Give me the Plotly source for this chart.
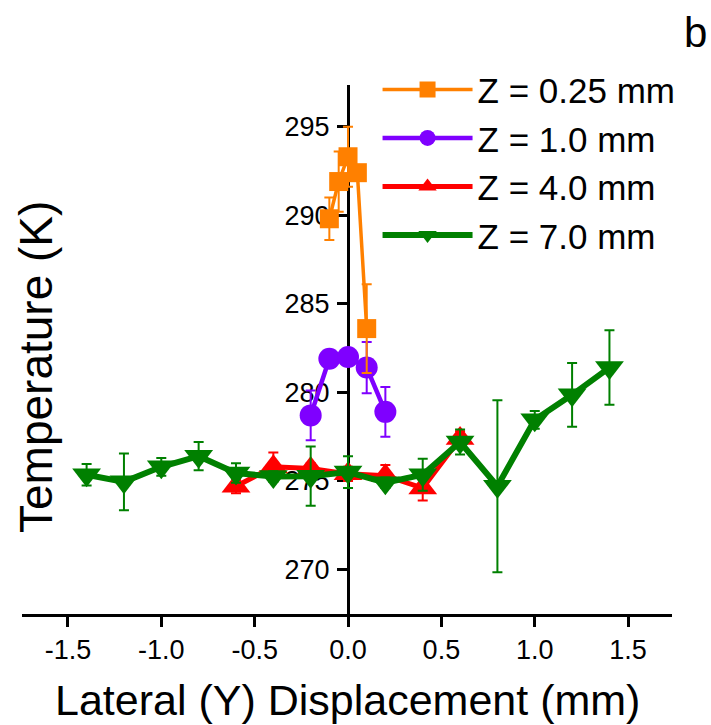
import plotly.graph_objects as go

# Lateral temperature profiles at several heights above the surface
x_025 = [-0.10, -0.05, 0.00, 0.05, 0.10]
t_025 = [289.8, 291.9, 293.3, 292.4, 283.6]
e_025 = [1.2, 1.7, 1.7, 0.4, 2.5]

x_10 = [-0.2, -0.1, 0.0, 0.1, 0.2]
t_10 = [278.7, 281.9, 282.0, 281.4, 278.9]
e_10 = [1.4, 0.3, 0.3, 1.45, 1.4]

x_40 = [-0.6, -0.4, -0.2, 0.0, 0.2, 0.4, 0.6]
t_40 = [274.7, 275.8, 275.7, 275.4, 275.3, 274.6, 277.4]
e_40 = [0.4, 0.8, 0.3, 0.4, 0.6, 0.7, 0.4]

x_70 = [-1.4, -1.2, -1.0, -0.8, -0.6, -0.4, -0.2, 0.0, 0.2, 0.4, 0.6, 0.8, 1.0, 1.2, 1.4]
t_70 = [275.35, 274.95, 275.8, 276.4, 275.45, 275.25, 275.27, 275.5, 274.9, 275.35, 277.2, 274.7, 278.45, 279.86, 281.4]
e_70 = [0.6, 1.6, 0.5, 0.8, 0.55, 0.3, 1.67, 0.9, 0.3, 0.9, 0.7, 4.85, 0.5, 1.8, 2.1]

x_ticks = [-1.5, -1.0, -0.5, 0.0, 0.5, 1.0, 1.5]
x_ticktext = ["-1.5", "-1.0", "-0.5", "0.0", "0.5", "1.0", "1.5"]
y_ticks = [270, 275, 280, 285, 290, 295]

FONT = "Liberation Sans, Arial, sans-serif"

series = [
    # (name, x, y, err, color, symbol, marker size, line width, legend rank)
    ("Z = 1.0 mm", x_10, t_10, e_10, "#7f00ff", "circle", 22, 4.5, 2),
    ("Z = 0.25 mm", x_025, t_025, e_025, "#ff8000", "square", 19, 3.5, 1),
    ("Z = 4.0 mm", x_40, t_40, e_40, "#ff0000", "triangle-up", 25, 5, 3),
    ("Z = 7.0 mm", x_70, t_70, e_70, "#008000", "triangle-down", 25, 6, 4),
]

fig = go.Figure()
for name, xs, ys, es, color, symbol, msize, lw, rank in series:
    fig.add_trace(go.Scatter(
        x=xs, y=ys, name=name, mode="lines+markers",
        line=dict(color=color, width=lw),
        marker=dict(color=color, symbol=symbol, size=msize, line=dict(width=0)),
        error_y=dict(type="data", array=es, color=color, thickness=2, width=5),
        legendrank=rank,
    ))

x_lo, x_hi = -1.746, 1.735
fig.update_layout(
    width=711, height=725,
    margin=dict(l=22, r=39, t=85, b=111),
    paper_bgcolor="white", plot_bgcolor="white",
    font=dict(family=FONT, color="black"),
    showlegend=True,
    legend=dict(
        x=0.547, y=1.047, xanchor="left", yanchor="top",
        font=dict(size=35, family=FONT),
        bgcolor="rgba(0,0,0,0)", itemwidth=90, tracegroupgap=0,
    ),
    xaxis=dict(
        range=[x_lo, x_hi], tickvals=x_ticks, ticktext=x_ticktext,
        showline=True, linecolor="black", linewidth=3,
        ticks="outside", ticklen=10, tickwidth=3, tickcolor="black",
        tickfont=dict(size=27, family=FONT),
        showgrid=False, zeroline=False, layer="below traces",
    ),
    yaxis=dict(
        range=[267.49, 297.35], tickvals=y_ticks,
        anchor="free", position=(0 - x_lo) / (x_hi - x_lo),
        showline=True, linecolor="black", linewidth=3,
        ticks="outside", ticklen=10, tickwidth=3, tickcolor="black",
        tickfont=dict(size=27, family=FONT), ticklabelstandoff=2,
        showgrid=False, zeroline=False, layer="below traces",
    ),
    annotations=[
        dict(text="Lateral (Y) Displacement (mm)", xref="paper", yref="paper",
             x=(347 - 22) / 650, y=(614 - 700) / 529, xanchor="center", yanchor="middle",
             showarrow=False, font=dict(size=43, family=FONT)),
        dict(text="Temperature (K)", xref="paper", yref="paper", textangle=-90,
             x=(36 - 22) / 650, y=(614 - 367) / 529, xanchor="center", yanchor="middle",
             showarrow=False, font=dict(size=46, family=FONT)),
        dict(text="b", xref="paper", yref="paper",
             x=(695 - 22) / 650, y=(614 - 33) / 529, xanchor="center", yanchor="middle",
             showarrow=False, font=dict(size=42, family=FONT)),
    ],
)

fig.write_html("out.html")
